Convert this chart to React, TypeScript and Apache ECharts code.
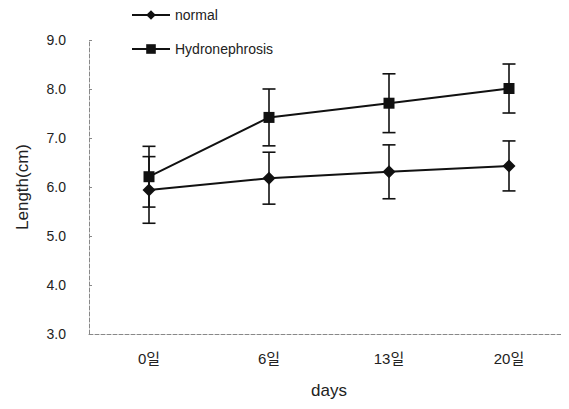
import React, { useEffect, useRef } from "react";
import * as echarts from "echarts";

const categories = ["0일", "6일", "13일", "20일"];
const normalMean = [5.94, 6.18, 6.31, 6.43];
const normalErr = [0.68, 0.53, 0.55, 0.51];
const hydroMean = [6.21, 7.42, 7.71, 8.01];
const hydroErr = [0.62, 0.58, 0.6, 0.5];
const yTicks = [3, 4, 5, 6, 7, 8, 9];

const FONT = "'Liberation Sans', Arial, 'Noto Sans CJK KR', sans-serif";

function errorData(mean: number[], err: number[]) {
  return mean.map((m, i) => [i, m - err[i], m + err[i]]);
}

function errorSeries(name: string, mean: number[], err: number[]) {
  return {
    type: "custom",
    name,
    silent: true,
    z: 3,
    data: errorData(mean, err),
    encode: { x: 0, y: [1, 2] },
    renderItem: (params: any, api: any) => {
      const x = api.value(0);
      const lo = api.coord([x, api.value(1)]);
      const hi = api.coord([x, api.value(2)]);
      const hw = 6.5;
      const style = { stroke: "#111", lineWidth: 1.6 };
      return {
        type: "group",
        children: [
          { type: "line", shape: { x1: lo[0], y1: lo[1], x2: hi[0], y2: hi[1] }, style },
          { type: "line", shape: { x1: lo[0] - hw, y1: lo[1], x2: lo[0] + hw, y2: lo[1] }, style },
          { type: "line", shape: { x1: hi[0] - hw, y1: hi[1], x2: hi[0] + hw, y2: hi[1] }, style },
        ],
      };
    },
  };
}

export default function App() {
  const ref = useRef<HTMLDivElement>(null);
  useEffect(() => {
    if (!ref.current) return;
    const chart = echarts.init(ref.current, undefined, { renderer: "svg" });
    chart.setOption({
      animation: false,
      backgroundColor: "#fff",
      textStyle: { fontFamily: FONT },
      legend: {
        orient: "vertical",
        left: 126,
        top: 3,
        itemGap: 20,
        itemWidth: 38,
        itemHeight: 12,
        textStyle: { fontSize: 14, color: "#222", fontFamily: FONT },
        data: ["normal", "Hydronephrosis"],
      },
      grid: { left: 89, right: 0, top: 40, bottom: 75 },
      xAxis: {
        type: "category",
        data: categories,
        boundaryGap: true,
        name: "days",
        nameLocation: "middle",
        nameGap: 48,
        nameTextStyle: { fontSize: 17, color: "#222", fontFamily: FONT },
        axisLine: { lineStyle: { color: "#888", type: "dashed", width: 1 } },
        axisTick: { show: false },
        axisLabel: { fontSize: 15, color: "#222", margin: 17, fontFamily: FONT },
      },
      yAxis: {
        type: "value",
        min: yTicks[0],
        max: yTicks[yTicks.length - 1],
        interval: 1,
        name: "Length(cm)",
        nameLocation: "middle",
        nameGap: 58,
        nameTextStyle: { fontSize: 17, color: "#222", fontFamily: FONT },
        axisLine: { show: true, lineStyle: { color: "#888", type: "dashed", width: 1 } },
        axisTick: { show: true, inside: true, length: 3, lineStyle: { color: "#888" } },
        splitLine: { show: false },
        axisLabel: {
          fontSize: 14,
          color: "#222",
          margin: 23,
          fontFamily: FONT,
          formatter: (v: number) => v.toFixed(1),
        },
      },
      series: [
        {
          name: "normal",
          type: "line",
          data: normalMean,
          symbol: "diamond",
          symbolSize: 13,
          z: 4,
          lineStyle: { color: "#111", width: 2 },
          itemStyle: { color: "#111" },
        },
        {
          name: "Hydronephrosis",
          type: "line",
          data: hydroMean,
          symbol: "rect",
          symbolSize: 11,
          z: 4,
          lineStyle: { color: "#111", width: 2 },
          itemStyle: { color: "#111" },
        },
        errorSeries("normal-err", normalMean, normalErr),
        errorSeries("hydro-err", hydroMean, hydroErr),
      ],
    });
    return () => chart.dispose();
  }, []);
  return <div ref={ref} style={{ width: 569, height: 409, margin: -8 }} />;
}
